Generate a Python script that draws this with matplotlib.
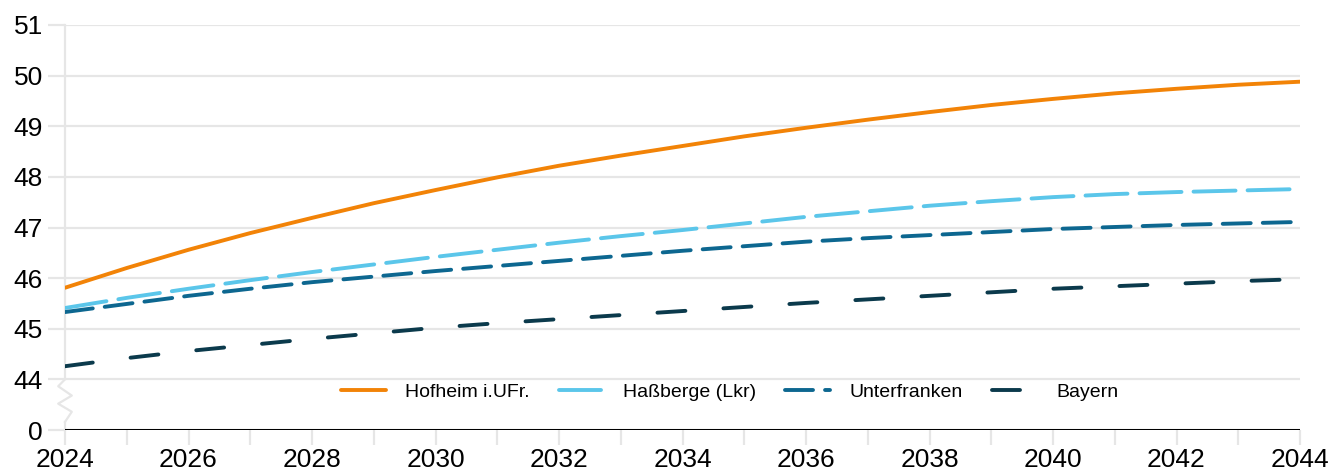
import numpy as np
import matplotlib.pyplot as plt

# Durchschnittsalter, Prognose 2024-2044 (Achse unterbrochen: 43 wird als "0" beschriftet)
jahre = list(range(2024, 2045))
hofheim = [45.81, 46.20, 46.56, 46.89, 47.19, 47.48, 47.74, 47.99, 48.22, 48.42, 48.61,
           48.80, 48.97, 49.13, 49.28, 49.42, 49.54, 49.65, 49.74, 49.82, 49.88]
hassberge = [45.41, 45.61, 45.79, 45.96, 46.12, 46.27, 46.42, 46.56, 46.70, 46.83, 46.95,
             47.08, 47.21, 47.32, 47.43, 47.52, 47.60, 47.66, 47.70, 47.73, 47.76]
unterfranken = [45.33, 45.49, 45.65, 45.79, 45.92, 46.03, 46.14, 46.24, 46.34, 46.44, 46.54,
                46.63, 46.72, 46.79, 46.85, 46.91, 46.97, 47.01, 47.05, 47.08, 47.11]
bayern = [44.26, 44.42, 44.56, 44.68, 44.80, 44.91, 45.02, 45.11, 45.19, 45.27, 45.35,
          45.43, 45.51, 45.58, 45.65, 45.72, 45.79, 45.84, 45.89, 45.94, 45.98]

y_ticks = [43, 44, 45, 46, 47, 48, 49, 50, 51]
y_labels = ['0', '44', '45', '46', '47', '48', '49', '50', '51']

plt.rcParams['font.family'] = ['Liberation Sans', 'DejaVu Sans']

fig = plt.figure(figsize=(13.35, 4.76), dpi=100)
ax = fig.add_axes([65 / 1335, 46 / 476, 1235 / 1335, 405 / 476])

grid_col = '#e6e6e6'
lw = 2.8
ax.plot(jahre, hofheim, color='#f28307', lw=lw, solid_capstyle='round', label='Hofheim i.UFr.', zorder=5)
ax.plot(jahre, hassberge, color='#5bc6ea', lw=lw, dashes=(10.8, 3.1), dash_capstyle='round', label='Haßberge (Lkr)', zorder=4)
ax.plot(jahre, unterfranken, color='#0d6790', lw=lw, dashes=(7.2, 3.1), dash_capstyle='round', label='Unterfranken', zorder=4)
ax.plot(jahre, bayern, color='#0b3a4c', lw=lw, dashes=(7.2, 9.8), dash_capstyle='round', label='Bayern', zorder=4)

ax.set_xlim(2024, 2044)
ax.set_ylim(43, 51)
ax.set_yticks(y_ticks)
ax.set_yticklabels(y_labels)
ax.set_xticks(range(2024, 2045))
ax.set_xticklabels([str(j) if j % 2 == 0 else '' for j in range(2024, 2045)])

for y in y_ticks[1:]:
    ax.axhline(y, color=grid_col, lw=1.6, zorder=1)
ax.axhline(43, color='black', lw=2.2, zorder=6)

for s in ax.spines.values():
    s.set_visible(False)

# linke Achse mit Bruchzeichen
ax.plot([0, 0], [1 / 8, 1], transform=ax.transAxes, color=grid_col, lw=1.6, clip_on=False, zorder=1)
ax.plot([0, 0], [0, 0.02], transform=ax.transAxes, color=grid_col, lw=1.6, clip_on=False, zorder=1)
zx = np.array([0, -0.0055, 0.0055, -0.0055, 0.0055, 0])
zy = np.array([1 / 8, 0.108, 0.085, 0.065, 0.045, 0.02])
ax.plot(zx, zy, transform=ax.transAxes, color=grid_col, lw=1.6, clip_on=False, zorder=1)

ax.tick_params(axis='y', length=12, width=1.6, color=grid_col, labelsize=19, pad=4)
ax.tick_params(axis='x', length=11, width=1.6, color=grid_col, labelsize=19, pad=2)

leg = ax.legend(loc='center', bbox_to_anchor=(0.538, 0.094), ncol=4, frameon=False,
                fontsize=14, handlelength=2.3, columnspacing=1.5, handletextpad=1.0)

plt.savefig('out.png', dpi=100)
